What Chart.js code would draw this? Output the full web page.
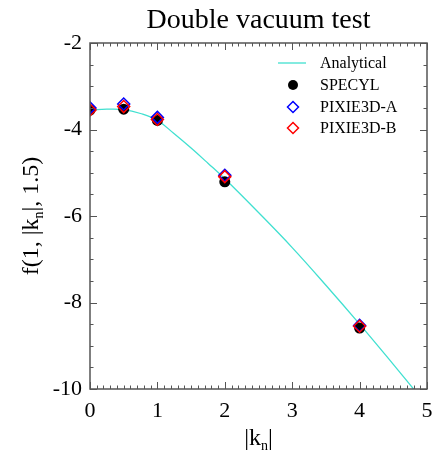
<!DOCTYPE html>
<html>
<head>
<meta charset="UTF-8">
<title>Double vacuum test</title>
<script src="https://cdn.jsdelivr.net/npm/chart.js@4.4.9/dist/chart.umd.min.js"></script>
<style>
    body { margin: 0; background: #fff; overflow: hidden; }
    #box { width: 436px; height: 455px; }
</style>
</head>
<body>
<div id="box"><canvas id="grafico"></canvas></div>
<script>
    // dados
    const kValues = [0, 0.5, 1, 2, 4];
    const specyl = [-3.55, -3.53, -3.79, -5.21, -8.59];
    const pixieA = [-3.50, -3.41, -3.72, -5.06, -8.53];
    const pixieB = [-3.55, -3.47, -3.77, -5.09, -8.55];
    const analyticK = [0, 0.25, 0.5, 0.75, 1, 1.25, 1.5, 1.75, 2, 2.5, 3, 3.5, 4, 4.5, 4.8];
    const analyticF = [-3.55, -3.53, -3.54, -3.63, -3.79, -4.10, -4.43, -4.78, -5.14, -5.92, -6.73, -7.60, -8.50, -9.43, -10.0];
    const xTicks = [0, 1, 2, 3, 4, 5];
    const yTicks = [-10, -8, -6, -4, -2];
    const legendLabels = ['Analytical', 'SPECYL', 'PIXIE3D-A', 'PIXIE3D-B'];
    const titulo = 'Double vacuum test';

    const serif = '"Liberation Serif", "DejaVu Serif", serif';

    function pontos(xs, ys) {
        return xs.map(function (x, i) { return { x: x, y: ys[i] }; });
    }

    // eixos, ticks, legenda, titulo e titulos dos eixos
    const moldura = {
        id: 'moldura',
        afterDraw(chart) {
            const ctx = chart.ctx;
            const a = chart.chartArea;
            const sx = chart.scales.x, sy = chart.scales.y;
            ctx.save();
            ctx.strokeStyle = '#555';
            ctx.lineWidth = 1.5;
            ctx.strokeRect(a.left, a.top, a.right - a.left, a.bottom - a.top);
            ctx.lineWidth = 1;
            ctx.beginPath();
            for (let i = 0; i <= 50; i++) {
                const v = i / 10;
                const len = (i % 10 === 0) ? 7 : 3.5;
                const px = Math.round(sx.getPixelForValue(v)) + 0.5;
                ctx.moveTo(px, a.bottom); ctx.lineTo(px, a.bottom - len);
                ctx.moveTo(px, a.top); ctx.lineTo(px, a.top + len);
            }
            for (let i = 0; i <= 16; i++) {
                const v = -10 + i * 0.5;
                const len = (i % 4 === 0) ? 7 : 3.5;
                const py = Math.round(sy.getPixelForValue(v)) + 0.5;
                ctx.moveTo(a.left, py); ctx.lineTo(a.left + len, py);
                ctx.moveTo(a.right, py); ctx.lineTo(a.right - len, py);
            }
            ctx.stroke();

            const cx = (a.left + a.right) / 2;

            // titulo
            ctx.fillStyle = '#000';
            ctx.font = '28px ' + serif;
            ctx.textAlign = 'center';
            ctx.textBaseline = 'alphabetic';
            ctx.fillText(titulo, cx, 28);

            // legenda
            const ds = chart.data.datasets;
            const rows = [63, 85, 107, 128];
            ctx.font = '16px ' + serif;
            ctx.textBaseline = 'middle';
            for (let i = 0; i < legendLabels.length; i++) {
                const y = rows[i];
                const d = ds[i];
                if (i === 0) {
                    ctx.strokeStyle = d.borderColor;
                    ctx.lineWidth = 1.3;
                    ctx.beginPath(); ctx.moveTo(278, y); ctx.lineTo(306, y); ctx.stroke();
                } else if (d.pointStyle === 'circle') {
                    ctx.fillStyle = d.pointBackgroundColor;
                    ctx.beginPath(); ctx.arc(293, y, 5, 0, Math.PI * 2); ctx.fill();
                } else {
                    ctx.strokeStyle = d.pointBorderColor;
                    ctx.lineWidth = 1.5;
                    ctx.beginPath();
                    ctx.moveTo(293, y - 5.5); ctx.lineTo(298.5, y); ctx.lineTo(293, y + 5.5); ctx.lineTo(287.5, y);
                    ctx.closePath(); ctx.stroke();
                }
                ctx.fillStyle = '#000';
                ctx.textAlign = 'left';
                ctx.fillText(legendLabels[i], 320, y + 1);
            }

            // titulo do eixo x: |k_n|
            ctx.textBaseline = 'alphabetic';
            ctx.font = '24px ' + serif;
            const w1 = ctx.measureText('|k').width;
            ctx.font = '14px ' + serif;
            const wn = ctx.measureText('n').width;
            ctx.font = '24px ' + serif;
            const w2 = ctx.measureText('|').width;
            let x0 = cx - (w1 + wn + w2) / 2;
            ctx.fillText('|k', x0, 445);
            ctx.font = '14px ' + serif;
            ctx.fillText('n', x0 + w1, 450);
            ctx.font = '24px ' + serif;
            ctx.fillText('|', x0 + w1 + wn, 445);

            // titulo do eixo y: f(1, |k_n|, 1.5)
            ctx.translate(38, (a.top + a.bottom) / 2);
            ctx.rotate(-Math.PI / 2);
            const t1 = 'f(1, |k', t2 = '|, 1.5)';
            const a1 = ctx.measureText(t1).width;
            const a2 = ctx.measureText(t2).width;
            ctx.font = '14px ' + serif;
            const an = ctx.measureText('n').width;
            x0 = -(a1 + an + a2) / 2;
            ctx.font = '24px ' + serif;
            ctx.fillText(t1, x0, 0);
            ctx.font = '14px ' + serif;
            ctx.fillText('n', x0 + a1, 5);
            ctx.font = '24px ' + serif;
            ctx.fillText(t2, x0 + a1 + an, 0);
            ctx.restore();
        }
    };

    const config = {
        type: 'scatter',
        data: {
            datasets: [{
                label: 'Analytical',
                data: pontos(analyticK, analyticF),
                showLine: true,
                borderColor: '#40e0d0',
                borderWidth: 1.3,
                pointRadius: 0,
                tension: 0.4,
                order: 4
            }, {
                label: 'SPECYL',
                data: pontos(kValues, specyl),
                pointStyle: 'circle',
                pointRadius: 5.5,
                pointBackgroundColor: '#000',
                pointBorderColor: '#000',
                pointBorderWidth: 0,
                order: 3
            }, {
                label: 'PIXIE3D-A',
                data: pontos(kValues, pixieA),
                pointStyle: 'rectRot',
                pointRadius: 6,
                pointBackgroundColor: 'rgba(0,0,0,0)',
                pointBorderColor: '#0000ff',
                pointBorderWidth: 1.5,
                order: 2
            }, {
                label: 'PIXIE3D-B',
                data: pontos(kValues, pixieB),
                pointStyle: 'rectRot',
                pointRadius: 6,
                pointBackgroundColor: 'rgba(0,0,0,0)',
                pointBorderColor: '#ff0000',
                pointBorderWidth: 1.5,
                order: 1
            }]
        },
        options: {
            responsive: true,
            maintainAspectRatio: false,
            animation: false,
            layout: { padding: { left: 0, right: 9, top: 43, bottom: 0 } },
            scales: {
                x: {
                    type: 'linear', min: 0, max: 5,
                    grid: { display: false, drawTicks: false },
                    border: { display: false },
                    afterFit(s) { s.height = 66; s.paddingLeft = 0; s.paddingRight = 0; },
                    afterBuildTicks(s) { s.ticks = xTicks.map(function (v) { return { value: v }; }); },
                    ticks: { color: '#000', padding: 9, font: { family: serif, size: 22 }, maxRotation: 0 }
                },
                y: {
                    type: 'linear', min: -10, max: -2,
                    grid: { display: false, drawTicks: false },
                    border: { display: false },
                    afterFit(s) { s.width = 90; s.paddingTop = 0; s.paddingBottom = 0; },
                    afterBuildTicks(s) { s.ticks = yTicks.map(function (v) { return { value: v }; }); },
                    ticks: { color: '#000', padding: 8, font: { family: serif, size: 22 } }
                }
            },
            plugins: {
                legend: { display: false },
                tooltip: { enabled: false },
                title: { display: false }
            }
        },
        plugins: [moldura]
    };

    new Chart(document.getElementById('grafico'), config);
</script>
</body>
</html>
